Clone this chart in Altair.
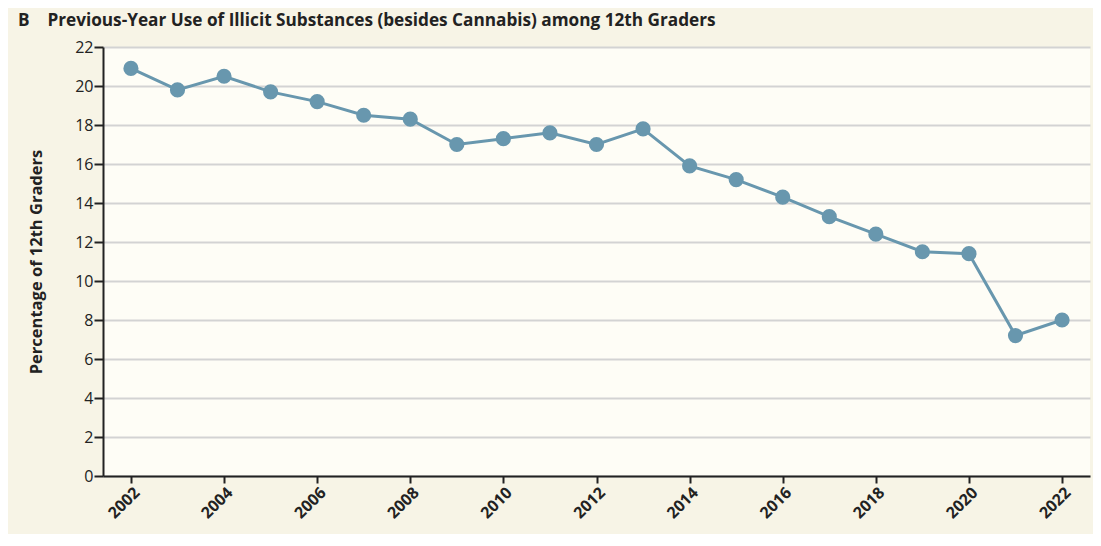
import altair as alt
import pandas as pd

years = list(range(2002, 2023))
values = [20.9, 19.8, 20.5, 19.7, 19.2, 18.5, 18.3, 17.0, 17.3, 17.6, 17.0,
          17.8, 15.9, 15.2, 14.3, 13.3, 12.4, 11.5, 11.4, 7.2, 8.0]
x_ticks = list(range(2002, 2023, 2))
y_ticks = list(range(0, 23, 2))

df = pd.DataFrame({"year": years, "pct": values})

FONT = "Open Sans"
COLOR = "#6897ae"
INK = "#222222"

x = alt.X("year:Q", scale=alt.Scale(domain=[2001.4, 2022.6], nice=False, zero=False),
          axis=alt.Axis(values=x_ticks, format="d", title=None, labelAngle=-45,
                        labelFontSize=16, labelColor=INK, labelFont=FONT,
                        labelFontWeight="bold", grid=False, tickColor=INK,
                        tickSize=7, tickWidth=2, domainColor=INK, domainWidth=2,
                        labelPadding=1))
y = alt.Y("pct:Q", scale=alt.Scale(domain=[0, 22], nice=False),
          axis=alt.Axis(values=y_ticks, title="Percentage of 12th Graders",
                        titleFont=FONT, titleFontSize=16.5, titleFontWeight="bold",
                        titleColor=INK, titlePadding=30,
                        labelFontSize=16, labelColor=INK, labelFont=FONT,
                        tickColor=INK, tickSize=9, tickWidth=2,
                        domainColor=INK, domainWidth=2, labelPadding=1,
                        gridColor="#d3d3d3", gridWidth=2))

base = alt.Chart(df)
line = base.mark_line(color=COLOR, strokeWidth=3).encode(x=x, y=y)
pts = base.mark_circle(color=COLOR, size=230, opacity=1).encode(x=x, y=y)

chart = (line + pts).properties(
    width=987, height=429,
    title=alt.TitleParams(
        text="B\u00a0\u00a0\u00a0\u00a0Previous-Year Use of Illicit Substances (besides Cannabis) among 12th Graders",
        anchor="start", frame="group", font=FONT, fontSize=17.2, fontWeight="bold",
        color=INK, dx=-85, offset=10),
    padding={"left": 95, "top": 39, "right": 3, "bottom": 58},
    autosize=alt.AutoSizeParams(type="none"),
    background="#f7f4e6",
).configure_view(fill="#fefdf6", stroke=None)

chart.save("out.html", embed_options={"renderer": "svg", "actions": False})
